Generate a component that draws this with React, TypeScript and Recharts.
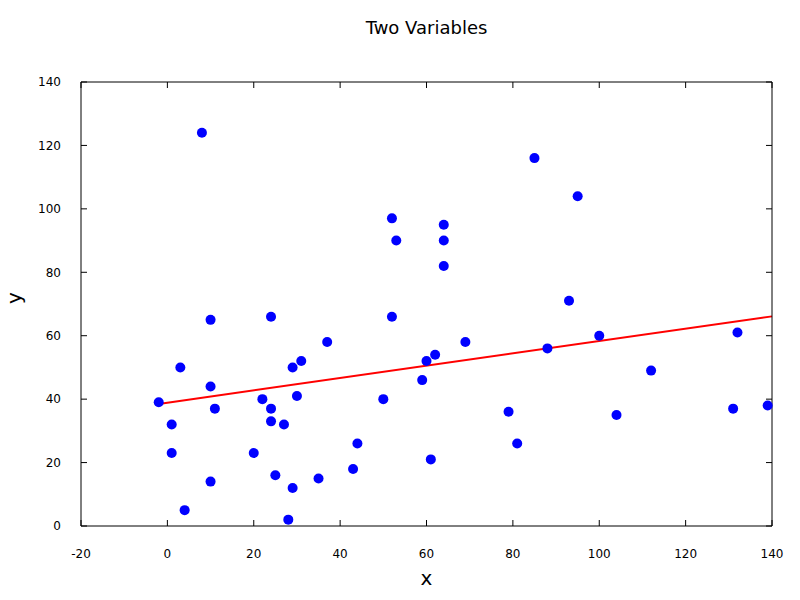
import { ScatterChart, Scatter, XAxis, YAxis, ReferenceLine } from 'recharts'

// sample points
const xValues = [-2, 1, 1, 3, 4, 10, 10, 11, 10, 20, 22, 24, 24, 24, 25, 27, 28, 29, 29, 30, 31, 35, 37, 43, 44, 50, 52, 52, 53, 59, 60, 62, 61, 64, 64, 64, 69, 79, 81, 85, 88, 93, 95, 100, 104, 112, 131, 132, 139, 8]
const yValues = [39, 32, 23, 50, 5, 65, 44, 37, 14, 23, 40, 66, 37, 33, 16, 32, 2, 50, 12, 41, 52, 15, 58, 18, 26, 40, 66, 97, 90, 46, 52, 54, 21, 95, 90, 82, 58, 36, 26, 116, 56, 71, 104, 60, 35, 49, 37, 61, 38, 124]

// least squares fit, end points
const fitX = [-2, 140]
const fitY = [38.5, 66.1]

const xTicks = [-20, 0, 20, 40, 60, 80, 100, 120, 140]
const yTicks = [0, 20, 40, 60, 80, 100, 120, 140]

const FONT = '"DejaVu Sans", sans-serif'

const points = xValues.map((x, i) => ({ x, y: yValues[i] }))
const noTick = () => <g />
const noShape = () => <g />

// gnuplot-style frame: ticks point inward on all four sides
const frameX = (id: string, orientation: 'top' | 'bottom') => (
  <XAxis
    xAxisId={id}
    orientation={orientation}
    mirror
    type="number"
    dataKey="x"
    domain={[-20, 140]}
    ticks={xTicks}
    tickSize={6}
    tick={noTick}
    axisLine={{ stroke: '#000' }}
    tickLine={{ stroke: '#000' }}
  />
)
const frameY = (id: string, orientation: 'left' | 'right') => (
  <YAxis
    yAxisId={id}
    orientation={orientation}
    mirror
    type="number"
    dataKey="y"
    domain={[0, 140]}
    ticks={yTicks}
    tickSize={6}
    tick={noTick}
    axisLine={{ stroke: '#000' }}
    tickLine={{ stroke: '#000' }}
  />
)

export default function App() {
  const tickStyle = { fontSize: 12, fill: '#000', fontFamily: FONT }
  return (
    <div style={{ position: 'absolute', left: 0, top: 0, width: 800, height: 600, background: '#fff' }}>
      <ScatterChart width={800} height={600} margin={{ top: 82, right: 28, bottom: 44, left: 21 }}>
        <XAxis
          type="number"
          dataKey="x"
          domain={[-20, 140]}
          ticks={xTicks}
          height={30}
          tickMargin={17}
          tick={tickStyle}
          axisLine={false}
          tickLine={false}
        />
        <YAxis
          type="number"
          dataKey="y"
          domain={[0, 140]}
          ticks={yTicks}
          width={60}
          tickMargin={14}
          tick={tickStyle}
          axisLine={false}
          tickLine={false}
        />
        {frameX('top', 'top')}
        {frameX('bottomFrame', 'bottom')}
        {frameY('right', 'right')}
        {frameY('leftFrame', 'left')}
        <Scatter data={points} xAxisId="top" yAxisId="right" isAnimationActive={false} shape={noShape} />
        <Scatter data={points} xAxisId="bottomFrame" yAxisId="leftFrame" isAnimationActive={false} shape={noShape} />
        <Scatter data={points} fill="#0000ff" isAnimationActive={false} shape={(p: any) => <circle cx={p.cx} cy={p.cy} r={5} fill="#0000ff" />} />
        <ReferenceLine
          segment={[{ x: fitX[0], y: fitY[0] }, { x: fitX[1], y: fitY[1] }]}
          stroke="#ff0000"
          strokeWidth={2}
        />
      </ScatterChart>
      <div style={{ position: 'absolute', left: 0, width: 853, top: 17, textAlign: 'center', fontFamily: FONT, fontSize: 18 }}>
        Two Variables
      </div>
      <div style={{ position: 'absolute', left: 0, width: 853, top: 566, textAlign: 'center', fontFamily: FONT, fontSize: 20 }}>
        x
      </div>
      <div style={{ position: 'absolute', left: 8, top: 286, fontFamily: FONT, fontSize: 20, lineHeight: '24px', transform: 'rotate(-90deg)' }}>
        y
      </div>
    </div>
  )
}
